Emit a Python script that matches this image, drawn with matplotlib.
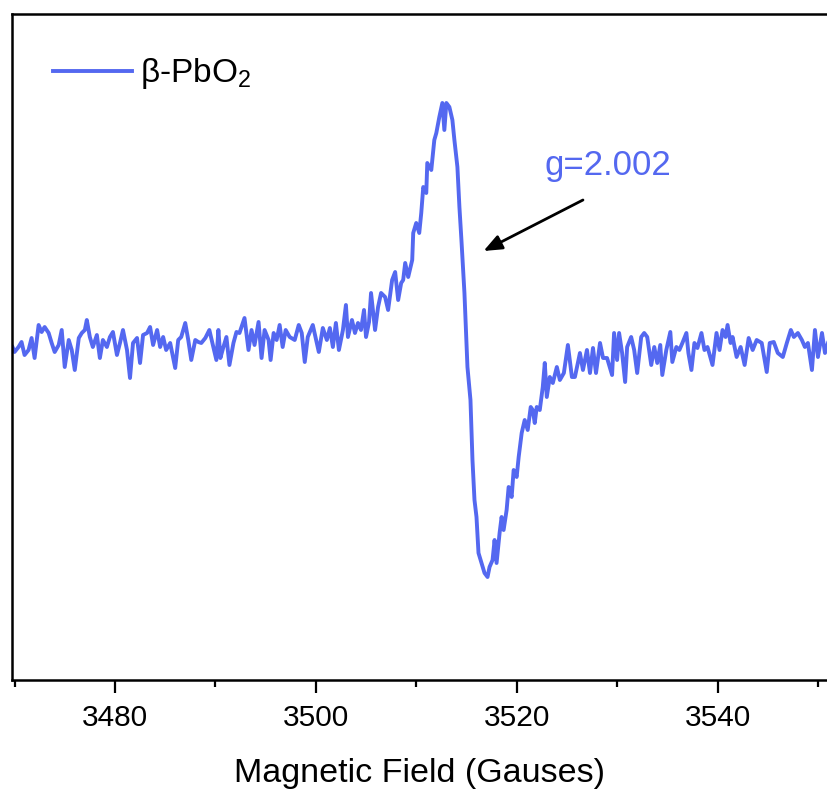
import matplotlib.pyplot as plt

plt.rcParams['font.family'] = ['Liberation Sans', 'DejaVu Sans']
plt.rcParams['mathtext.fontset'] = 'custom'
plt.rcParams['mathtext.rm'] = 'Liberation Sans'

# EPR spectrum of beta-PbO2 (field in G, intensity in arb. units)
field = [
    3469.8, 3470.0, 3470.4, 3470.7, 3471.0, 3471.4, 3471.7, 3472.0, 3472.4, 3472.7,
    3473.0, 3473.4, 3473.7, 3474.0, 3474.4, 3474.7, 3475.0, 3475.4, 3475.7, 3476.0,
    3476.4, 3476.7, 3477.0, 3477.2, 3477.5, 3477.8, 3478.2, 3478.5, 3478.8, 3479.2,
    3479.5, 3479.8, 3480.2, 3480.5, 3480.8, 3481.2, 3481.5, 3481.8, 3482.2, 3482.5,
    3482.8, 3483.2, 3483.5, 3483.8, 3484.2, 3484.5, 3484.8, 3485.1, 3485.5, 3485.8,
    3486.0, 3486.3, 3486.6, 3487.0, 3487.3, 3487.6, 3488.0, 3488.3, 3488.6, 3489.0,
    3489.4,
    3489.8, 3490.1, 3490.3, 3490.5, 3490.8, 3491.1, 3491.4, 3491.8, 3492.1, 3492.4,
    3492.9, 3493.3, 3493.6, 3493.9, 3494.3, 3494.6, 3494.9, 3495.3, 3495.5, 3495.8,
    3496.1, 3496.4, 3496.7, 3497.0, 3497.4, 3497.9, 3498.3, 3498.6, 3498.9, 3499.2,
    3499.7, 3500.1, 3500.3, 3500.7, 3501.1, 3501.4, 3501.7, 3502.0, 3502.3, 3502.7,
    3503.0, 3503.2, 3503.6, 3503.9, 3504.2, 3504.5, 3504.8, 3505.0, 3505.3, 3505.5,
    3505.9, 3506.2, 3506.5, 3506.9, 3507.2, 3507.6, 3507.9, 3508.2, 3508.5,
    3508.7, 3508.9, 3509.2, 3509.6, 3509.7, 3510.0, 3510.3, 3510.5, 3510.7, 3511.0,
    3511.1, 3511.5, 3511.8, 3512.0, 3512.3, 3512.6, 3512.8, 3513.0, 3513.3, 3513.6,
    3513.8, 3514.1, 3514.3, 3514.5, 3514.8, 3515.1, 3515.4, 3515.6, 3515.8, 3516.0,
    3516.2, 3516.5, 3516.8, 3517.1, 3517.3, 3517.6, 3517.8, 3518.0, 3518.3, 3518.5,
    3518.7, 3519.0, 3519.2, 3519.5, 3519.7, 3520.0, 3520.2, 3520.5, 3520.8, 3521.1,
    3521.4, 3521.6, 3521.8, 3522.0, 3522.3, 3522.6, 3522.8, 3523.0, 3523.3, 3523.6,
    3524.0, 3524.3, 3524.7, 3525.1, 3525.5, 3525.8,
    3526.3, 3526.6, 3527.0, 3527.3, 3527.6, 3527.9, 3528.3, 3528.6, 3529.0, 3529.5,
    3529.7, 3530.0, 3530.2, 3530.5, 3530.8, 3531.0, 3531.4, 3531.7, 3532.0, 3532.4,
    3532.7, 3533.0, 3533.4, 3533.7, 3534.0, 3534.3, 3534.5, 3534.9, 3535.3, 3535.5,
    3535.9, 3536.2, 3536.5, 3536.9, 3537.1, 3537.4, 3537.7, 3538.0, 3538.4, 3538.7,
    3539.0, 3539.5, 3539.9, 3540.2, 3540.5, 3540.8, 3541.0, 3541.3, 3541.5, 3541.9,
    3542.3, 3542.7, 3543.1, 3543.5, 3543.9, 3544.4, 3544.9, 3545.2, 3545.6, 3546.0,
    3546.5, 3546.9, 3547.3, 3547.6, 3548.0, 3548.4, 3548.7, 3549.0, 3549.4, 3549.7,
    3550.0, 3550.4, 3550.7, 3551.0,
]
signal = [
    -2, -7, -2, 3, -10, -5, 7, -13, 20, 13,
    18, 12, 2, -7, 0, 15, -22, 5, -5, -25,
    7, 12, 15, 25, 8, -2, 10, -13, 5, -2,
    8, 13, -10, 2, 15, -5, -33, 2, 7, -18,
    10, 12, 18, 0, 15, -2, 8, -5, 2, -13,
    -23, 5, 8, 22, 5, -15, 5, 3, 2, 7,
    15,
    -2, -15, 15, -13, -2, 8, -20, 2, 13, 12,
    27, -5, 15, 0, 23, -13, 15, 5, -15, 12,
    5, 20, -2, 15, 8, 5, 20, 12, -17, 8,
    20, 2, -7, 17, 5, 17, -2, 22, -5, 15,
    40, 8, 25, 12, 22, 15, 35, 8, 23, 52,
    15, 38, 52, 48, 35, 65, 73, 45, 62,
    65, 82, 68, 85, 112, 122, 112, 132, 158, 152,
    182, 175, 205, 212, 228, 242, 215, 242, 238, 225,
    205, 178, 138, 105, 52, -22, -55, -115, -155, -172,
    -208, -218, -228, -232, -222, -215, -195, -218, -188, -172,
    -185, -165, -142, -152, -125, -132, -112, -88, -75, -85,
    -62, -65, -78, -62, -65, -42, -18, -52, -32, -38,
    -22, -35, -28, 0, -32, -32,
    -8, -25, -5, -28, -3, -28, 2, -13, -13, -30,
    12, -15, 12, -8, -37, -2, 8, -5, -28, 8,
    12, 8, -20, -2, -18, 0, -30, -5, 13, -17,
    -2, -5, 2, 12, -8, -25, 2, -3, 12, -5,
    -2, -20, 12, -5, 15, 8, 20, 2, 8, -12,
    -2, -20, 7, -5, 5, 2, -27, 2, 3, -8,
    -12, 2, 15, 8, 12, 5, -2, 2, -25, 15,
    -12, 12, -8, 2,
]

major_ticks = [3480, 3500, 3520, 3540]
minor_ticks = [3470, 3490, 3510, 3530, 3550]

blue = '#5468F0'

fig = plt.figure(figsize=(8.28, 7.96), dpi=100)
ax = fig.add_axes([12 / 828, 116 / 796, 816 / 828, 666 / 796])

ax.plot(field, signal, color=blue, lw=2.8, label=r'β-PbO$_\mathregular{2}$')

ax.set_xlim(3469.75, 3551.0)
ax.set_ylim(-335, 331)

ax.set_xticks(major_ticks)
ax.set_xticks(minor_ticks, minor=True)
ax.set_yticks([])
ax.tick_params(axis='x', which='major', direction='out', length=9, width=1.6,
               labelsize=21.5, pad=8)
ax.tick_params(axis='x', which='minor', direction='out', length=5, width=1.6)

for side in ['left', 'top', 'bottom']:
    ax.spines[side].set_linewidth(1.8)
ax.spines['right'].set_visible(False)

ax.set_xlabel('Magnetic Field (Gauses)', fontsize=24.5, labelpad=19)

ax.legend(loc='center left', bbox_to_anchor=(0.050, 0.910), frameon=False,
          fontsize=24, handlelength=2.37, handletextpad=0.24,
          borderpad=0, borderaxespad=0)

ax.text(3529.1, 180, 'g=2.002', color=blue, fontsize=25, ha='center', va='center')
ax.annotate('', xy=(3516.7, 94), xytext=(3526.6, 145),
            arrowprops=dict(arrowstyle='-|>,head_length=1.1,head_width=0.45',
                            color='black', lw=2.0, shrinkA=0, shrinkB=0))

fig.savefig('out.png', dpi=100)
